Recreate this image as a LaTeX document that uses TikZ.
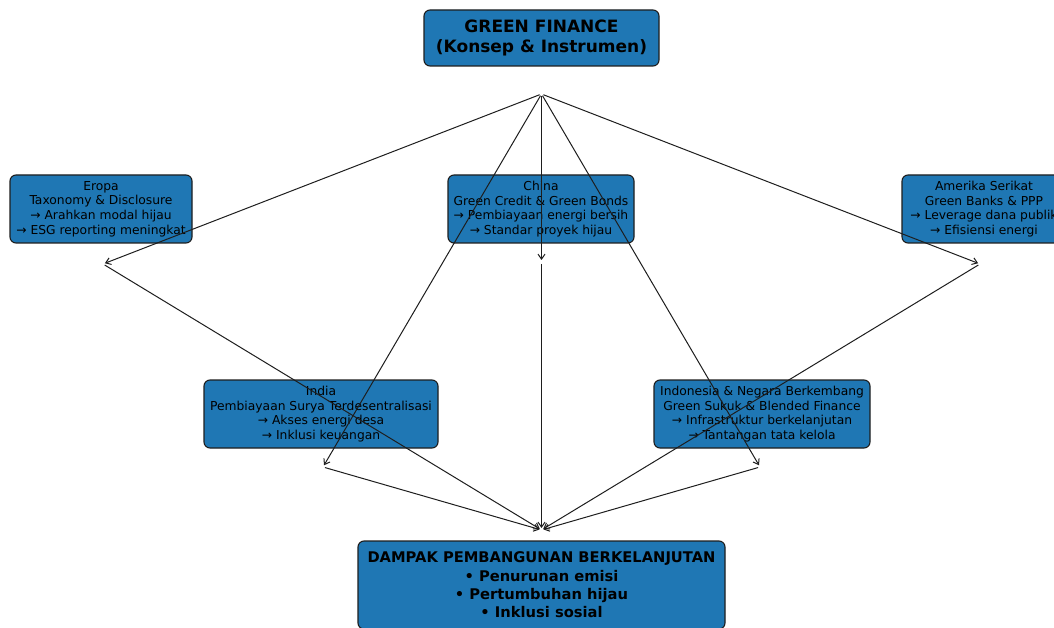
\documentclass[tikz,border=0pt]{standalone}
\usepackage{fontspec}
\setmainfont{DejaVu Sans}
\usetikzlibrary{arrows.meta}
\definecolor{boxblue}{HTML}{1F77B4}
\definecolor{edge}{HTML}{1E1E1E}
\tikzset{
  box/.style={draw=edge, line width=1.1pt, fill=boxblue, rounded corners=6pt,
    align=center, inner sep=0pt, text=black,
    font=\fontsize{12.3}{14.6}\selectfont},
  titlebox/.style={box, font=\bfseries\fontsize{17}{19.3}\selectfont},
  impactbox/.style={box, font=\bfseries\fontsize{14.7}{18.4}\selectfont},
  arr/.style={draw=edge, line width=1pt,
    -{Straight Barb[length=5pt,width=7pt,line width=1pt]},
    shorten >=2pt, shorten <=2pt},
}
\begin{document}
\begin{tikzpicture}[x=1pt,y=-1pt]
\useasboundingbox (0,0) rectangle (1054,628);
\fill[white] (0,0) rectangle (1054,628);

\node[titlebox, minimum width=235pt, minimum height=56pt] (gf) at (541.5,38)
  {GREEN FINANCE\\(Konsep \& Instrumen)};

\node[box, minimum width=182pt, minimum height=68pt] (eropa) at (101,209)
  {Eropa\\Taxonomy \& Disclosure\\→ Arahkan modal hijau\\→ ESG reporting meningkat};
\node[box, minimum width=186pt, minimum height=68pt] (china) at (541,209)
  {China\\Green Credit \& Green Bonds\\→ Pembiayaan energi bersih\\→ Standar proyek hijau};
\node[box, minimum width=164pt, minimum height=68pt] (us) at (984,209)
  {Amerika Serikat\\Green Banks \& PPP\\→ Leverage dana publik\\→ Efisiensi energi};
\node[box, minimum width=234pt, minimum height=68pt] (india) at (321,414)
  {India\\Pembiayaan Surya Terdesentralisasi\\→ Akses energi desa\\→ Inklusi keuangan};
\node[box, minimum width=216pt, minimum height=68pt] (indo) at (762,414)
  {Indonesia \& Negara Berkembang\\Green Sukuk \& Blended Finance\\→ Infrastruktur berkelanjutan\\→ Tantangan tata kelola};
\node[impactbox, minimum width=367pt, minimum height=88pt] (impact) at (541.5,585)
  {DAMPAK PEMBANGUNAN BERKELANJUTAN\\• Penurunan emisi\\• Pertumbuhan hijau\\• Inklusi sosial};

\coordinate (top) at (541.5,94);
\coordinate (peu) at (103,264);
\coordinate (pcn) at (541.5,262);
\coordinate (pus) at (980,264);
\coordinate (pin) at (323,467);
\coordinate (pid) at (760,467);
\coordinate (bot) at (541.5,530);

\foreach \p in {peu,pcn,pus,pin,pid}{
  \draw[arr] (top) -- (\p);
  \draw[arr] (\p) -- (bot);
}
\end{tikzpicture}
\end{document}
